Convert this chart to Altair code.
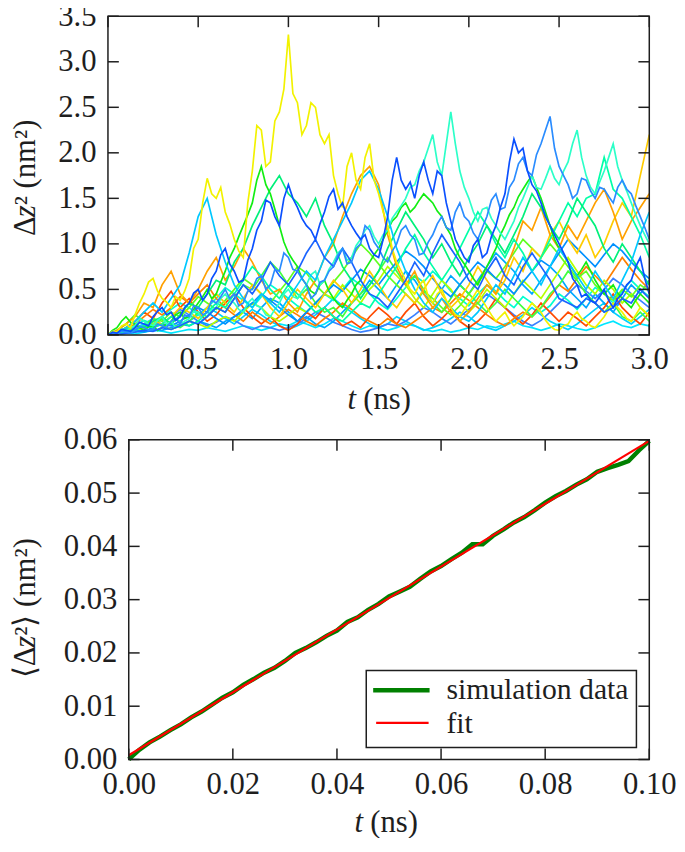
import altair as alt
import pandas as pd

# ---------------- data ----------------
# every trace spans t = 0 ... 3 ns with evenly spaced samples
tr_yellow = [0.00, 0.04, 0.03, 0.10, 0.12, 0.08, 0.22, 0.35, 0.45, 0.58,
             0.62, 0.48, 0.40, 0.36, 0.30, 0.42, 0.38, 0.48, 0.62, 0.95,
             1.05, 1.45, 1.72, 1.55, 1.50, 1.62, 1.35, 1.22, 1.05, 0.92,
             0.85, 1.45, 1.80, 2.30, 2.25, 1.85, 1.90, 2.35, 2.45, 2.70,
             3.30, 2.65, 2.55, 2.20, 2.30, 2.55, 2.50, 2.20, 2.10, 2.20,
             1.75, 1.55, 1.40, 1.85, 2.00, 1.70, 1.60, 1.95, 2.10, 1.70,
             1.55, 1.35, 1.20, 0.95, 0.80, 0.70, 0.60, 0.50, 0.45, 0.55,
             0.60, 0.42, 0.35, 0.45, 0.50, 0.38, 0.30, 0.22, 0.20, 0.28,
             0.35, 0.42, 0.50, 0.38, 0.30, 0.22, 0.15, 0.20, 0.25, 0.16,
             0.10, 0.15, 0.20, 0.28, 0.35, 0.30, 0.25, 0.16, 0.10, 0.06,
             0.05, 0.10, 0.12, 0.20, 0.25, 0.18, 0.15, 0.10, 0.08, 0.14,
             0.20, 0.28, 0.35, 0.30, 0.25, 0.18, 0.15, 0.22, 0.30, 0.26,
             0.20]
tr_blue = [0.00, 0.03, 0.02, 0.06, 0.05, 0.04, 0.08, 0.14, 0.12, 0.10,
           0.20, 0.26, 0.30, 0.22, 0.25, 0.16, 0.20, 0.30, 0.35, 0.46,
           0.50, 0.38, 0.45, 0.62, 0.70, 0.88, 0.95, 0.78, 0.70, 0.58,
           0.60, 0.82, 0.95, 1.15, 1.25, 1.48, 1.45, 1.30, 1.20, 1.50,
           1.65, 1.50, 1.40, 1.28, 1.20, 1.15, 1.05, 1.22, 1.35, 1.52,
           1.60, 1.38, 1.45, 1.30, 1.20, 1.12, 1.05, 1.10, 0.95, 0.88,
           0.85, 1.05, 1.30, 1.70, 1.95, 1.70, 1.60, 1.68, 1.50, 1.75,
           1.90, 1.70, 1.55, 1.80, 1.75, 1.45, 1.25, 1.05, 0.95, 0.85,
           0.80, 0.98, 1.05, 0.85, 0.90, 1.08, 1.20, 1.40, 1.55, 1.90,
           2.15, 2.00, 2.05, 1.80, 1.65, 1.58, 1.45, 1.30, 1.20, 1.10,
           1.00, 0.90, 0.80, 0.62, 0.55, 0.42, 0.45, 0.38, 0.35, 0.42,
           0.50, 0.38, 0.30, 0.40, 0.45, 0.55, 0.60, 0.75, 0.85, 0.62,
           0.45]
tr_azure = [0.00, 0.02, 0.01, 0.04, 0.03, 0.02, 0.05, 0.09, 0.08, 0.05,
            0.06, 0.12, 0.10, 0.08, 0.15, 0.18, 0.12, 0.22, 0.20, 0.32,
            0.30, 0.22, 0.25, 0.38, 0.35, 0.42, 0.50, 0.40, 0.45, 0.32,
            0.35, 0.48, 0.50, 0.62, 0.65, 0.50, 0.55, 0.72, 0.70, 0.90,
            0.85, 0.72, 0.70, 0.62, 0.55, 0.40, 0.45, 0.58, 0.60, 0.70,
            0.75, 0.88, 0.95, 0.78, 0.80, 0.95, 1.00, 1.20, 1.15, 1.02,
            0.95, 0.85, 0.80, 0.92, 1.00, 1.15, 1.20, 1.10, 1.05, 0.88,
            0.90, 1.02, 1.10, 1.22, 1.30, 1.18, 1.15, 1.35, 1.45, 1.30,
            1.25, 1.12, 1.05, 1.18, 1.30, 1.48, 1.55, 1.38, 1.40, 1.62,
            1.70, 1.88, 1.95, 1.80, 1.75, 1.98, 2.10, 2.25, 2.40, 2.05,
            1.85, 1.75, 1.65, 1.50, 1.55, 1.72, 1.70, 1.58, 1.50, 1.62,
            1.60, 1.52, 1.45, 1.62, 1.70, 1.60, 1.55, 1.42, 1.30, 1.18,
            1.05]
tr_aqua = [0.00, 0.02, 0.03, 0.06, 0.05, 0.08, 0.10, 0.18, 0.15, 0.12,
           0.10, 0.16, 0.20, 0.12, 0.15, 0.08, 0.10, 0.15, 0.18, 0.26,
           0.25, 0.16, 0.20, 0.28, 0.30, 0.40, 0.45, 0.38, 0.35, 0.28,
           0.25, 0.35, 0.40, 0.32, 0.30, 0.22, 0.20, 0.28, 0.35, 0.45,
           0.50, 0.42, 0.40, 0.48, 0.55, 0.66, 0.70, 0.55, 0.60, 0.72,
           0.80, 0.90, 0.95, 0.82, 0.85, 0.98, 1.05, 1.15, 1.20, 1.08,
           1.00, 1.10, 1.15, 1.28, 1.35, 1.42, 1.50, 1.62, 1.65, 1.80,
           1.90, 2.05, 2.20, 1.90, 1.75, 2.10, 2.45, 2.10, 1.80, 1.62,
           1.50, 1.35, 1.25, 1.38, 1.40, 1.28, 1.20, 1.12, 1.05, 1.15,
           1.25, 1.40, 1.50, 1.62, 1.75, 1.62, 1.60, 1.72, 1.85, 1.72,
           1.65, 1.80, 1.90, 2.10, 2.25, 1.95, 1.75, 1.62, 1.55, 1.68,
           1.80, 1.95, 2.10, 1.85, 1.70, 1.58, 1.45, 1.32, 1.20, 1.10,
           1.00]
tr_green = [0.00, 0.05, 0.08, 0.15, 0.20, 0.14, 0.12, 0.08, 0.05, 0.09,
            0.10, 0.05, 0.08, 0.12, 0.15, 0.22, 0.25, 0.18, 0.20, 0.28,
            0.35, 0.42, 0.50, 0.40, 0.45, 0.58, 0.70, 0.85, 0.95, 1.08,
            1.20, 1.32, 1.45, 1.70, 1.85, 1.65, 1.55, 1.38, 1.20, 1.02,
            0.90, 0.82, 0.75, 0.62, 0.55, 0.48, 0.45, 0.55, 0.60, 0.48,
            0.40, 0.34, 0.30, 0.38, 0.45, 0.55, 0.60, 0.72, 0.80, 0.88,
            0.95, 1.05, 1.15, 1.25, 1.30, 1.40, 1.45, 1.35, 1.40, 1.48,
            1.55, 1.50, 1.45, 1.36, 1.30, 1.18, 1.10, 0.95, 0.85, 0.78,
            0.70, 0.62, 0.55, 0.66, 0.75, 0.85, 0.95, 1.10, 1.20, 1.32,
            1.40, 1.52, 1.60, 1.68, 1.75, 1.62, 1.50, 1.35, 1.20, 1.05,
            0.95, 0.88, 0.80, 0.72, 0.65, 0.72, 0.80, 0.70, 0.60, 0.52,
            0.45, 0.50, 0.55, 0.46, 0.40, 0.35, 0.30, 0.38, 0.45, 0.40,
            0.35]
tr_orange = [0.00, 0.05, 0.12, 0.20, 0.35, 0.30, 0.55, 0.70, 0.45, 0.35,
             0.50, 0.70, 0.85, 0.60, 0.75, 0.95, 0.80, 0.60, 0.45, 0.50,
             0.35, 0.25, 0.45, 0.60, 0.85, 1.00, 1.30, 1.55, 1.75, 1.85,
             1.65, 1.10, 0.75, 0.55, 0.70, 0.45, 0.30, 0.40, 0.25, 0.15,
             0.25, 0.40, 0.55, 0.45, 0.70, 0.95, 1.25, 1.15, 1.40, 1.10,
             0.95, 1.20, 1.05, 1.25, 1.45, 1.60, 1.35, 1.05, 1.25, 1.40,
             1.55]
tr_gold = [0.00, 0.02, 0.05, 0.10, 0.08, 0.15, 0.12, 0.20, 0.30, 0.25,
           0.18, 0.30, 0.45, 0.35, 0.25, 0.40, 0.55, 0.45, 0.30, 0.20,
           0.35, 0.50, 0.40, 0.30, 0.45, 0.60, 0.50, 0.35, 0.50, 0.70,
           0.55, 0.40, 0.30, 0.45, 0.35, 0.50, 0.65, 0.45, 0.30, 0.40,
           0.55, 0.75, 0.60, 0.45, 0.60, 0.85, 0.70, 0.95, 0.85, 1.10,
           1.25, 1.05, 0.90, 1.10, 0.85, 1.00, 1.25, 1.45, 1.30, 1.75,
           2.20]
tr_red = [0.00, 0.03, 0.08, 0.15, 0.25, 0.18, 0.35, 0.48, 0.30, 0.40,
          0.25, 0.15, 0.22, 0.35, 0.45, 0.30, 0.20, 0.12, 0.20, 0.10,
          0.05, 0.12, 0.25, 0.18, 0.30, 0.20, 0.10, 0.15, 0.08, 0.20,
          0.30, 0.22, 0.12, 0.25, 0.35, 0.20, 0.10, 0.18, 0.28, 0.15,
          0.08, 0.15, 0.25, 0.40, 0.30, 0.20, 0.12, 0.22, 0.35, 0.25,
          0.15, 0.25, 0.18, 0.10, 0.20, 0.30, 0.45, 0.30, 0.20, 0.12,
          0.25]
tr_spring = [0.00, 0.02, 0.06, 0.10, 0.08, 0.15, 0.20, 0.12, 0.22, 0.35,
             0.30, 0.45, 0.60, 0.55, 0.80, 0.95, 1.20, 1.40, 1.60, 1.75,
             1.55, 1.45, 1.30, 1.50, 1.20, 1.00, 0.75, 0.60, 0.40, 0.55,
             0.70, 0.95, 1.15, 1.35, 1.20, 1.05, 0.85, 1.00, 0.80, 0.65,
             0.85, 1.00, 1.20, 1.05, 0.90, 1.10, 1.30, 1.55, 1.40, 1.20,
             1.05, 1.25, 1.50, 1.35, 1.20, 0.95, 0.80, 1.00, 0.85, 0.70,
             0.55]
tr_sky = [0.00, 0.02, 0.08, 0.15, 0.25, 0.35, 0.25, 0.40, 0.55, 0.90,
          1.30, 1.50, 1.10, 0.80, 0.55, 0.40, 0.30, 0.45, 0.35, 0.25,
          0.40, 0.55, 0.70, 0.60, 0.85, 1.05, 1.25, 1.45, 1.70, 1.80,
          1.60, 1.30, 0.95, 0.70, 0.50, 0.35, 0.25, 0.40, 0.30, 0.20,
          0.15, 0.25, 0.40, 0.55, 0.45, 0.65, 0.85, 0.70, 0.55, 0.75,
          0.95, 0.80, 0.65, 0.50, 0.70, 0.55, 0.40, 0.60, 0.80, 1.10,
          1.35]
tr_blue2 = [0.00, 0.00, 0.02, 0.03, 0.05, 0.04, 0.08, 0.06, 0.10, 0.15,
            0.12, 0.20, 0.30, 0.25, 0.40, 0.55, 0.45, 0.60, 0.80, 0.65,
            0.55, 0.70, 0.90, 1.05, 0.85, 0.75, 0.95, 0.80, 0.60, 0.45,
            0.40, 0.30, 0.45, 0.60, 0.80, 0.65, 0.90, 1.10, 0.95, 0.80,
            0.60, 0.50, 0.70, 0.85, 0.65, 0.55, 0.75, 0.90, 0.75, 0.60,
            0.40, 0.35, 0.30, 0.40, 0.35, 0.25, 0.30, 0.40, 0.35, 0.50,
            0.40]
tr_sky2 = [0.00, 0.01, 0.02, 0.04, 0.03, 0.06, 0.05, 0.08, 0.12, 0.10,
           0.15, 0.12, 0.08, 0.15, 0.20, 0.25, 0.18, 0.30, 0.40, 0.35,
           0.25, 0.15, 0.20, 0.12, 0.08, 0.15, 0.25, 0.35, 0.45, 0.60,
           0.50, 0.40, 0.55, 0.70, 0.60, 0.45, 0.35, 0.50, 0.65, 0.55,
           0.45, 0.60, 0.75, 0.90, 0.80, 0.70, 0.55, 0.45, 0.60, 0.75,
           0.65, 0.50, 0.40, 0.30, 0.45, 0.35, 0.25, 0.40, 0.55, 0.45,
           0.60]
tr_lime = [0.00, 0.02, 0.05, 0.03, 0.08, 0.12, 0.10, 0.06, 0.10, 0.15,
           0.12, 0.08, 0.15, 0.20, 0.15, 0.25, 0.35, 0.30, 0.20, 0.15,
           0.22, 0.30, 0.25, 0.35, 0.45, 0.40, 0.55, 0.45, 0.35, 0.50,
           0.60, 0.75, 0.65, 0.55, 0.40, 0.30, 0.45, 0.60, 0.50, 0.35,
           0.25, 0.35, 0.50, 0.40, 0.30, 0.45, 0.60, 0.50, 0.40, 0.55,
           0.70, 0.85, 0.70, 0.55, 0.45, 0.60, 0.50, 0.35, 0.45, 0.30,
           0.20]
tr_green2 = [0.00, 0.05, 0.12, 0.22, 0.15, 0.10, 0.18, 0.12, 0.08, 0.15,
             0.25, 0.20, 0.30, 0.25, 0.40, 0.55, 0.50, 0.65, 0.80, 0.70,
             0.55, 0.40, 0.50, 0.35, 0.25, 0.30, 0.20, 0.35, 0.45, 0.55,
             0.70, 0.85, 0.70, 0.55, 0.65, 0.50, 0.35, 0.25, 0.40, 0.55,
             0.45, 0.35, 0.25, 0.35, 0.50, 0.40, 0.30, 0.20, 0.30, 0.45,
             0.55, 0.70, 0.60, 0.45, 0.35, 0.25, 0.35, 0.20, 0.15, 0.25,
             0.15]
tr_cyan = [0.00, 0.01, 0.02, 0.01, 0.03, 0.05, 0.04, 0.02, 0.04, 0.06,
           0.05, 0.08, 0.06, 0.04, 0.07, 0.10, 0.08, 0.05, 0.08, 0.12,
           0.10, 0.15, 0.12, 0.08, 0.12, 0.18, 0.15, 0.10, 0.06, 0.10,
           0.08, 0.05, 0.08, 0.12, 0.10, 0.06, 0.04, 0.06, 0.03, 0.05,
           0.08, 0.06, 0.10, 0.08, 0.12, 0.15, 0.10, 0.08, 0.05, 0.08,
           0.12, 0.10, 0.07, 0.05, 0.08, 0.12, 0.15, 0.10, 0.08, 0.12,
           0.10]
tr_spring2 = [0.00, 0.01, 0.03, 0.05, 0.10, 0.08, 0.12, 0.20, 0.15, 0.10,
              0.15, 0.25, 0.35, 0.30, 0.45, 0.60, 0.75, 0.65, 0.50, 0.40,
              0.55, 0.45, 0.35, 0.25, 0.30, 0.20, 0.15, 0.25, 0.35, 0.30,
              0.45, 0.60, 0.75, 0.95, 1.10, 0.90, 0.75, 0.60, 0.75, 0.95,
              1.15, 1.35, 1.20, 1.00, 0.85, 1.05, 0.90, 0.70, 0.85, 1.05,
              1.25, 1.45, 1.30, 1.50, 1.55, 1.95, 1.60, 1.50, 1.30, 1.10,
              0.85]
tr_cyan2 = [0.00, 0.02, 0.04, 0.08, 0.12, 0.18, 0.10, 0.06, 0.10, 0.15,
            0.22, 0.30, 0.25, 0.18, 0.12, 0.20, 0.28, 0.22, 0.15, 0.10,
            0.06, 0.10, 0.15, 0.22, 0.30, 0.40, 0.32, 0.25, 0.18, 0.12,
            0.08, 0.12, 0.20, 0.15, 0.10, 0.05, 0.08, 0.12, 0.18, 0.25,
            0.20, 0.12, 0.08, 0.05, 0.10, 0.15, 0.22, 0.30, 0.22, 0.15,
            0.10, 0.06, 0.12, 0.20, 0.28, 0.35, 0.25, 0.18, 0.12, 0.20,
            0.28]
tr_blue3 = [0.00, 0.01, 0.03, 0.06, 0.10, 0.15, 0.12, 0.20, 0.28, 0.22,
            0.15, 0.10, 0.14, 0.20, 0.16, 0.10, 0.06, 0.10, 0.08, 0.05,
            0.08, 0.12, 0.18, 0.25, 0.20, 0.14, 0.10, 0.06, 0.03, 0.05,
            0.08, 0.12, 0.10, 0.15, 0.22, 0.30, 0.25, 0.18, 0.12, 0.20,
            0.28, 0.35, 0.45, 0.38, 0.30, 0.22, 0.15, 0.10, 0.16, 0.25,
            0.35, 0.45, 0.55, 0.48, 0.40, 0.50, 0.62, 0.55, 0.45, 0.38,
            0.30]
tr_teal = [0.00, 0.02, 0.06, 0.10, 0.16, 0.12, 0.20, 0.28, 0.35, 0.30,
           0.22, 0.30, 0.40, 0.52, 0.45, 0.38, 0.30, 0.42, 0.55, 0.48,
           0.40, 0.32, 0.25, 0.35, 0.45, 0.38, 0.50, 0.62, 0.55, 0.45,
           0.35, 0.28, 0.40, 0.52, 0.65, 0.58, 0.70, 0.60, 0.48, 0.40,
           0.32, 0.45, 0.55, 0.48, 0.38, 0.30, 0.42, 0.35, 0.25, 0.32,
           0.45, 0.38, 0.28, 0.40, 0.52, 0.45, 0.35, 0.48, 0.60, 0.50,
           0.42]
tr_orange2 = [0.00, 0.02, 0.05, 0.12, 0.20, 0.28, 0.22, 0.30, 0.42, 0.35,
              0.45, 0.55, 0.40, 0.30, 0.22, 0.15, 0.25, 0.18, 0.12, 0.20,
              0.28, 0.22, 0.15, 0.10, 0.18, 0.25, 0.35, 0.28, 0.20, 0.15,
              0.10, 0.18, 0.12, 0.08, 0.15, 0.22, 0.30, 0.25, 0.35, 0.45,
              0.38, 0.30, 0.22, 0.15, 0.10, 0.18, 0.25, 0.20, 0.30, 0.42,
              0.55, 0.48, 0.62, 0.75, 0.65, 0.55, 0.70, 0.85, 0.72, 0.60,
              0.50]
tr_green3 = [0.00, 0.03, 0.08, 0.05, 0.10, 0.18, 0.15, 0.25, 0.20, 0.30,
             0.42, 0.35, 0.28, 0.38, 0.50, 0.62, 0.55, 0.45, 0.35, 0.48,
             0.60, 0.75, 0.68, 0.55, 0.45, 0.58, 0.70, 0.85, 1.00, 0.90,
             0.78, 0.65, 0.55, 0.45, 0.35, 0.48, 0.40, 0.30, 0.22, 0.32,
             0.45, 0.58, 0.70, 0.62, 0.75, 0.90, 1.05, 0.95, 0.85, 1.00,
             0.88, 0.75, 0.62, 0.70, 0.55, 0.45, 0.38, 0.50, 0.42, 0.55,
             0.48]
tr_azure2 = [0.00, 0.01, 0.03, 0.05, 0.04, 0.08, 0.12, 0.10, 0.15, 0.22,
             0.30, 0.25, 0.18, 0.12, 0.20, 0.28, 0.35, 0.45, 0.38, 0.30,
             0.22, 0.15, 0.25, 0.35, 0.45, 0.55, 0.48, 0.60, 0.72, 0.65,
             0.55, 0.68, 0.80, 0.92, 0.85, 0.75, 0.62, 0.50, 0.42, 0.55,
             0.68, 0.80, 0.72, 0.62, 0.55, 0.45, 0.58, 0.70, 0.82, 0.75,
             0.90, 1.05, 0.95, 0.85, 0.75, 0.88, 1.00, 0.92, 0.80, 0.70,
             0.62]

# drawing order (first = bottom) and colours
trace_names = ["cyan", "cyan2", "blue3", "sky2", "teal", "red", "orange2",
               "lime", "green2", "green3", "azure2", "gold", "orange",
               "spring2", "spring", "green", "aqua", "sky", "yellow",
               "blue2", "azure", "blue"]
trace_colors = ["#00e6ff", "#00d2ff", "#3a80ff", "#00a8ff", "#00ffd0",
                "#ff4a00", "#ff8000", "#b4ff00", "#40ff40", "#60ff20",
                "#0090ff", "#ffcc00", "#ffa000", "#00ffa8", "#00f07a",
                "#12ee12", "#2cffc8", "#00c8ff", "#f2f200", "#1a64ff",
                "#2a8cff", "#0a50ff"]
trace_values = [tr_cyan, tr_cyan2, tr_blue3, tr_sky2, tr_teal, tr_red,
                tr_orange2, tr_lime, tr_green2, tr_green3, tr_azure2, tr_gold,
                tr_orange, tr_spring2, tr_spring, tr_green, tr_aqua, tr_sky,
                tr_yellow, tr_blue2, tr_azure, tr_blue]
T_END = 3.0

# bottom panel: mean square displacement and linear fit
sim_t = [round(0.002 * i, 3) for i in range(51)]
sim_v = [0.0000, 0.0018, 0.0032, 0.0043, 0.0055, 0.0066, 0.0079, 0.0090,
         0.0103, 0.0116, 0.0126, 0.0140, 0.0151, 0.0163, 0.0172, 0.0185,
         0.0200, 0.0209, 0.0220, 0.0232, 0.0242, 0.0258, 0.0267, 0.0281,
         0.0292, 0.0306, 0.0315, 0.0324, 0.0339, 0.0353, 0.0363, 0.0376,
         0.0388, 0.0404, 0.0404, 0.0420, 0.0432, 0.0445, 0.0455, 0.0468,
         0.0482, 0.0494, 0.0504, 0.0516, 0.0526, 0.0540, 0.0547, 0.0553,
         0.0560, 0.0580, 0.0598]
fit_t = [0.0, 0.1]
fit_v = [0.0008, 0.0598]

TOP_X_TICKS = [0.0, 0.5, 1.0, 1.5, 2.0, 2.5, 3.0]
TOP_Y_TICKS = [0.0, 0.5, 1.0, 1.5, 2.0, 2.5, 3.0, 3.5]
BOT_X_TICKS = [0.0, 0.02, 0.04, 0.06, 0.08, 0.10]
BOT_Y_TICKS = [0.0, 0.01, 0.02, 0.03, 0.04, 0.05, 0.06]

# ---------------- styling ----------------
FONT = "Liberation Serif"
INK = "#1e1e1e"
FS = 31
LEG_FS = 30
TL = 11
W, H1, H2 = 547, 322, 323
BX = 21          # the lower frame starts this far right of the upper one
YT = -83         # x of the rotated y titles

rows = []
for z, (name, vals) in enumerate(zip(trace_names, trace_values)):
    step = T_END / (len(vals) - 1)
    for k, v in enumerate(vals):
        rows.append({"trace": name, "t": round(k * step, 4), "v": v, "k": k, "z": z})
top_df = pd.DataFrame(rows)
sim_df = pd.DataFrame({"t": sim_t, "v": sim_v})
fit_df = pd.DataFrame({"t": fit_t, "v": fit_v})

ONE = alt.Data(values=[{"a": 0}])


def axis(values, fmt, pad, offset=0):
    return alt.Axis(values=values, format=fmt, title=None, labelPadding=pad,
                    ticks=False, domain=False, grid=False, labelFlush=False,
                    offset=offset, labelFont=FONT, labelFontSize=FS, labelColor=INK)


def txt(s, x, y, style="normal", angle=0, size=FS, align="left"):
    return alt.Chart(ONE).mark_text(
        text=s, font=FONT, fontSize=size, fontStyle=style, angle=angle,
        align=align, baseline="middle", color=INK
    ).encode(x=alt.value(x), y=alt.value(y))


def frame(x0, x1, h):
    return alt.Chart(ONE).mark_rect(fillOpacity=0, stroke=INK, strokeWidth=1.5).encode(
        x=alt.value(x0), x2=alt.value(x1), y=alt.value(0), y2=alt.value(h))


def frame_ticks(xscale, yscale, xaxis, yaxis, xt, yt, x0, x1, h):
    xdf = pd.DataFrame({"t": xt})
    ydf = pd.DataFrame({"v": yt})
    st = dict(color=INK, strokeWidth=1.5)
    xe = alt.X("t:Q", scale=xscale, axis=xaxis)
    ye = alt.Y("v:Q", scale=yscale, axis=yaxis)
    return [
        alt.Chart(xdf).mark_rule(**st).encode(x=xe, y=alt.value(h), y2=alt.value(h - TL)),
        alt.Chart(xdf).mark_rule(**st).encode(x=xe, y=alt.value(0), y2=alt.value(TL)),
        alt.Chart(ydf).mark_rule(**st).encode(y=ye, x=alt.value(x0), x2=alt.value(x0 + TL)),
        alt.Chart(ydf).mark_rule(**st).encode(y=ye, x=alt.value(x1), x2=alt.value(x1 - TL)),
    ]


# ---------------- top panel ----------------
xs1 = alt.Scale(domain=[0, 3], nice=False, zero=False)
ys1 = alt.Scale(domain=[0, 3.5], nice=False)
xa1 = axis(TOP_X_TICKS, ".1f", 10)
ya1 = axis(TOP_Y_TICKS, ".1f", 12)

lines_top = alt.Chart(top_df).mark_line(strokeWidth=1.7, clip=True).encode(
    x=alt.X("t:Q", scale=xs1, axis=xa1),
    y=alt.Y("v:Q", scale=ys1, axis=ya1),
    color=alt.Color("trace:N", scale=alt.Scale(domain=trace_names, range=trace_colors), legend=None),
    order=alt.Order("k:Q"),
)

top_titles = [
    txt("t", 242, H1 + 66, style="italic"),
    txt("(ns)", 258, H1 + 66),
    txt("\u0394", YT, 222, angle=270),
    txt("z", YT, 203, style="italic", angle=270),
    txt("\u00b2 (nm\u00b2)", YT, 191, angle=270),
]

top = alt.layer(lines_top,
                *frame_ticks(xs1, ys1, xa1, ya1, TOP_X_TICKS, TOP_Y_TICKS, 0, W, H1),
                frame(0, W, H1), *top_titles).properties(width=W, height=H1)

# ---------------- bottom panel ----------------
xs2 = alt.Scale(domain=[0, 0.1], nice=False, zero=False, range=[BX, W])
ys2 = alt.Scale(domain=[0, 0.06], nice=False)
xa2 = axis(BOT_X_TICKS, ".2f", 10)
ya2 = axis(BOT_Y_TICKS, ".2f", 12, offset=-BX)

sim_line = alt.Chart(sim_df).mark_line(color="#008000", strokeWidth=4.5).encode(
    x=alt.X("t:Q", scale=xs2, axis=xa2),
    y=alt.Y("v:Q", scale=ys2, axis=ya2),
)
fit_line = alt.Chart(fit_df).mark_line(color="#ff0000", strokeWidth=2.2).encode(
    x=alt.X("t:Q", scale=xs2, axis=xa2),
    y=alt.Y("v:Q", scale=ys2, axis=ya2),
)

legend = [
    alt.Chart(ONE).mark_rect(fill="white", stroke=INK, strokeWidth=1.5).encode(
        x=alt.value(BX + 240), x2=alt.value(BX + 513), y=alt.value(233), y2=alt.value(311)),
    alt.Chart(ONE).mark_rule(color="#008000", strokeWidth=4.5).encode(
        x=alt.value(BX + 247), x2=alt.value(BX + 304), y=alt.value(253)),
    alt.Chart(ONE).mark_rule(color="#ff0000", strokeWidth=2.2).encode(
        x=alt.value(BX + 250), x2=alt.value(BX + 303), y=alt.value(286)),
    txt("simulation data", BX + 321, 253, size=LEG_FS),
    txt("fit", BX + 321, 287, size=LEG_FS),
]

bot_titles = [
    txt("t", BX + 228, H2 + 64, style="italic"),
    txt("(ns)", BX + 244, H2 + 64),
    txt("\u27e8\u0394", YT, 241, angle=270),
    txt("z", YT, 210, style="italic", angle=270),
    txt("\u00b2\u27e9 (nm\u00b2)", YT, 198, angle=270),
]

bottom = alt.layer(sim_line, fit_line,
                   *frame_ticks(xs2, ys2, xa2, ya2, BOT_X_TICKS, BOT_Y_TICKS, BX, W, H2),
                   *legend, frame(BX, W, H2), *bot_titles).properties(width=W, height=H2)

chart = alt.vconcat(top, bottom, spacing=9).properties(
    padding={"left": 2, "top": -12, "right": 0, "bottom": -4}
).configure_view(strokeWidth=0)

chart.save("out.html", embed_options={"renderer": "svg", "actions": False})
